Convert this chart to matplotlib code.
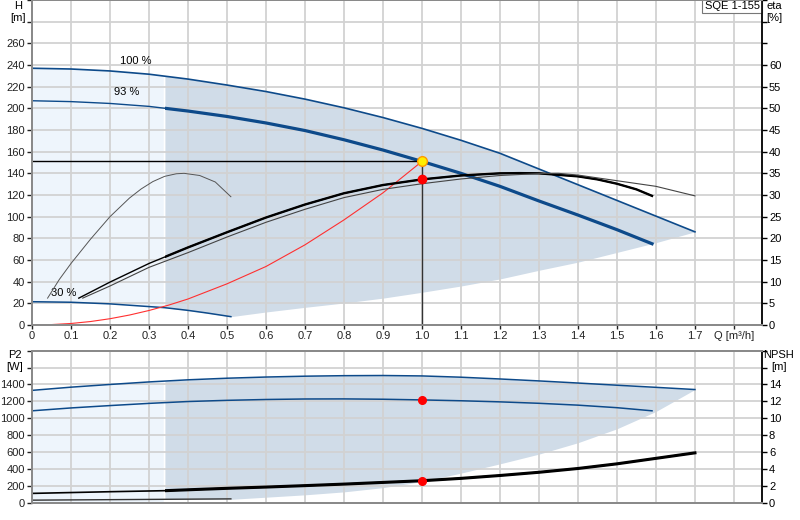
import numpy as np
import matplotlib
matplotlib.use('Agg')
import matplotlib.pyplot as plt
from matplotlib.patches import Rectangle

plt.rcParams['font.family'] = ['Liberation Sans', 'DejaVu Sans']

# ---- pump curves ----
# head H [m] vs flow Q [m3/h]
q100 = [0, 0.1, 0.2, 0.3, 0.4, 0.5, 0.6, 0.7, 0.8, 0.9, 1.0, 1.1, 1.2, 1.3, 1.4, 1.5, 1.6, 1.7]
h100 = [237, 236.3, 234.5, 231.5, 227, 221.5, 215.5, 208.5, 200.5, 191.5, 181.5, 170.5, 158.5, 144,
        129.5, 115, 100.5, 86]
q93 = [0, 0.1, 0.2, 0.3, 0.4, 0.5, 0.6, 0.7, 0.8, 0.9, 1.0, 1.1, 1.2, 1.3, 1.4, 1.5, 1.59]
h93 = [207, 206.2, 204.5, 201.8, 197.5, 192.5, 186.5, 179.5, 171, 161.5, 151, 140, 128, 114.5,
       101.5, 88, 75]
q30 = [0, 0.1, 0.2, 0.3, 0.34, 0.4, 0.45, 0.51]
h30 = [21.5, 21, 19.5, 17, 16, 13.5, 11, 7.7]
q_low = [0.51, 0.6, 0.7, 0.8, 0.9, 1.0, 1.1, 1.2, 1.3, 1.4, 1.5, 1.6, 1.7]
h_low = [7.7, 12, 16.3, 20.3, 24.8, 30.2, 36, 42.5, 50.5, 58, 67, 76, 86]

# system curve
q_sys = [0, 0.05, 0.1, 0.15, 0.2, 0.25, 0.3, 0.35, 0.4, 0.5, 0.6, 0.7, 0.8, 0.9, 1.0]
h_sys = [0, 0.4, 1.4, 3.2, 5.8, 9.2, 13.4, 18.3, 24, 38, 54, 74, 97, 122, 151]

# efficiency eta [%]
q_eta30 = [0.04, 0.07, 0.1, 0.15, 0.2, 0.25, 0.28, 0.31, 0.34, 0.37, 0.39, 0.43, 0.47, 0.51]
eta30 = [6.2, 10.5, 14.2, 19.8, 25, 29.3, 31.4, 33.1, 34.3, 34.9, 35, 34.5, 33, 29.6]
q_eta93 = [0.12, 0.2, 0.3, 0.4, 0.5, 0.6, 0.7, 0.8, 0.9, 1.0, 1.1, 1.2, 1.25, 1.3, 1.4, 1.45,
           1.5, 1.55, 1.59]
eta93 = [6.2, 9.9, 14.2, 17.9, 21.4, 24.8, 27.8, 30.4, 32.3, 33.6, 34.5, 35, 35.05, 35, 34.3,
         33.6, 32.6, 31.3, 29.8]
q_eta100 = [0.13, 0.2, 0.3, 0.4, 0.5, 0.6, 0.7, 0.8, 0.9, 1.0, 1.1, 1.2, 1.3, 1.35, 1.4, 1.5,
            1.6, 1.7]
eta100 = [6.2, 9.0, 13.3, 16.7, 20.3, 23.7, 26.7, 29.4, 31.3, 32.6, 33.7, 34.5, 34.95, 35, 34.6,
          33.3, 32, 29.8]

# power P2 [W]
q_p100 = [0, 0.1, 0.2, 0.3, 0.4, 0.5, 0.6, 0.7, 0.8, 0.9, 1.0, 1.1, 1.2, 1.3, 1.4, 1.5, 1.6, 1.7]
p100 = [1330, 1368, 1400, 1430, 1455, 1474, 1488, 1498, 1504, 1506, 1501, 1486, 1465, 1442, 1417,
        1391, 1366, 1340]
q_p93 = [0, 0.1, 0.2, 0.3, 0.4, 0.5, 0.6, 0.7, 0.8, 0.9, 1.0, 1.1, 1.2, 1.3, 1.4, 1.5, 1.59]
p93 = [1088, 1122, 1150, 1176, 1198, 1212, 1222, 1228, 1229, 1225, 1217, 1207, 1194, 1177, 1155,
       1125, 1088]
q_p30 = [0, 0.51]
p30 = [30, 45]
q_plow = [0.51, 0.6, 0.7, 0.8, 0.9, 1.0, 1.1, 1.2, 1.3, 1.4, 1.5, 1.6, 1.7]
p_low = [40, 65, 93, 128, 178, 250, 350, 460, 575, 710, 875, 1080, 1340]

# NPSH [m]
q_npsh = [0, 0.1, 0.2, 0.34, 0.43, 0.5, 0.6, 0.7, 0.8, 0.9, 1.0, 1.1, 1.2, 1.3, 1.4, 1.5, 1.6, 1.7]
npsh = [1.1, 1.2, 1.3, 1.42, 1.58, 1.7, 1.85, 2.02, 2.2, 2.4, 2.6, 2.88, 3.22, 3.6, 4.05, 4.6,
        5.25, 5.9]

# duty point
q_duty = 1.0
h_duty = 151
eta_duty = 33.6
p_duty = 1216
npsh_duty = 2.62

x_ticks = [0, 0.1, 0.2, 0.3, 0.4, 0.5, 0.6, 0.7, 0.8, 0.9, 1.0, 1.1, 1.2, 1.3, 1.4, 1.5, 1.6, 1.7, 1.8]
x_labels = ['0', '0.1', '0.2', '0.3', '0.4', '0.5', '0.6', '0.7', '0.8', '0.9', '1.0', '1.1', '1.2',
            '1.3', '1.4', '1.5', '1.6', '1.7', 'Q [m\u00b3/h]']

BLUE = '#0d4a8a'
LIGHT = '#eef5fc'
DARK = '#d0dce8'
GRID = '#d2d2d2'
FS = 8
q_split = 0.34


def style_axes(ax, tw, ymax, yticks, tw_max, tw_ticks):
    ax.set_xlim(0, 1.872)
    ax.set_ylim(0, ymax)
    tw.set_ylim(0, tw_max)
    ax.set_xticks(x_ticks)
    ax.grid(True, color=GRID, lw=1.3)
    ax.set_yticks(yticks)
    tw.set_yticks(tw_ticks)
    for a in (ax, tw):
        for s in a.spines.values():
            s.set_color('#8a8a8a')
            s.set_linewidth(1.4)
    tw.spines['right'].set_color('black')
    tw.spines['right'].set_linewidth(1.2)
    ax.tick_params(axis='y', length=3.5, width=1, labelsize=FS, pad=1.5, colors='#222222')
    tw.tick_params(axis='y', length=3.5, width=1, labelsize=FS, pad=1.5, colors='black')


def label_hide(labels, n):
    return [str(v) if i < n else '' for i, v in enumerate(labels)]


def thick_line(ax, q, v, **kw):
    # the part right of q_split is drawn heavier
    line, = ax.plot(q, v, **kw)
    ymax = ax.get_ylim()[1]
    clip = Rectangle((q_split, 0), 5, ymax, transform=ax.transData)
    line.set_clip_path(clip)
    return line


fig = plt.figure(figsize=(8, 5.2), dpi=100)
ax1 = fig.add_axes([0.04, 0.375, 0.9125, 0.625])
ax1t = ax1.twinx()
ax2 = fig.add_axes([0.04, 0.0333, 0.9125, 0.2923])
ax2t = ax2.twinx()

# ---------------- head / efficiency ----------------
yt1 = list(range(0, 301, 20))
et1 = list(range(0, 76, 5))
style_axes(ax1, ax1t, 300, yt1, 75, et1)
ax1.set_yticklabels(label_hide(yt1, 14))
ax1t.set_yticklabels(label_hide(et1, 13))
ax1.set_xticklabels(x_labels, fontsize=FS)
ax1.tick_params(axis='x', length=3, width=1, pad=1.5, colors='#222222')

# shaded areas
qq = np.linspace(0, 1.7, 400)
top = np.interp(qq, q100, h100)
bot = np.where(qq <= 0.51, np.interp(qq, q30, h30), np.interp(qq, q_low, h_low))
m_l = qq <= q_split
m_d = qq >= q_split
ax1.fill_between(qq[m_l], bot[m_l], top[m_l], color=LIGHT, lw=0, zorder=0.5)
ax1.fill_between(qq[m_d], bot[m_d], top[m_d], color=DARK, lw=0, zorder=0.5)

ax1.plot(q100, h100, color=BLUE, lw=1.2)
ax1.plot(q93, h93, color=BLUE, lw=1.0)
thick_line(ax1, q93, h93, color=BLUE, lw=2.3)
ax1.plot(q30, h30, color=BLUE, lw=1.1)

ax1.text(0.225, 244, '100 %', fontsize=FS, va='center')
ax1.text(0.21, 215, '93 %', fontsize=FS, va='center')
ax1.text(0.05, 29.5, '30 %', fontsize=FS, va='center')

# system curve and duty point lines
ax1.plot(q_sys, h_sys, color='#ff3030', lw=0.8)
ax1.plot([0, q_duty], [h_duty, h_duty], color='black', lw=1.0)
ax1.plot([q_duty, q_duty], [0, h_duty], color='#333333', lw=1.0)

# efficiency curves
ax1t.plot(q_eta30, eta30, color='#555555', lw=0.7)
ax1t.plot(q_eta93, eta93, color='black', lw=1.0)
thick_line(ax1t, q_eta93, eta93, color='black', lw=1.7)
ax1t.plot(q_eta100, eta100, color='#444444', lw=0.8)
ax1t.plot([q_duty], [eta_duty], 'o', ms=6, color='red', mec='red', zorder=5)
ax1.plot([q_duty], [h_duty], 'o', ms=7, color='#ffee00', mec='#ff9900', mew=1, zorder=5)

ax1.text(0.997, 0.998, 'SQE 1-155', transform=ax1.transAxes, ha='right', va='top', fontsize=8,
         bbox=dict(boxstyle='square,pad=0.22', fc='white', ec='#777777', lw=0.8), zorder=10)

# ---------------- power / NPSH ----------------
yt2 = list(range(0, 1801, 200))
nt2 = list(range(0, 19, 2))
style_axes(ax2, ax2t, 1800, yt2, 18, nt2)
ax2.set_yticklabels(label_hide(yt2, 8))
ax2t.set_yticklabels(label_hide(nt2, 8))
ax2.set_xticklabels([])
ax2.tick_params(axis='x', length=0)

ptop = np.interp(qq, q_p100, p100)
pbot = np.where(qq <= 0.51, np.interp(qq, q_p30, p30), np.interp(qq, q_plow, p_low))
ax2.fill_between(qq[m_l], 0, ptop[m_l], color=LIGHT, lw=0, zorder=0.5)
ax2.fill_between(qq[m_d], pbot[m_d], ptop[m_d], color=DARK, lw=0, zorder=0.5)

ax2.plot(q_p100, p100, color=BLUE, lw=1.1)
ax2.plot(q_p93, p93, color=BLUE, lw=1.1)
ax2.plot(q_p30, p30, color='#333333', lw=1.0)
ax2t.plot(q_npsh, npsh, color='black', lw=1.2)
thick_line(ax2t, q_npsh, npsh, color='black', lw=2.2)
ax2.plot([q_duty], [p_duty], 'o', ms=5.5, color='red', zorder=5)
ax2t.plot([q_duty], [npsh_duty], 'o', ms=5.5, color='red', zorder=5)

# axis titles
fig.text(18 / 800, 1 - 6 / 520, 'H', fontsize=FS, ha='center', va='center')
fig.text(18 / 800, 1 - 18 / 520, '[m]', fontsize=FS, ha='center', va='center')
fig.text(774 / 800, 1 - 6 / 520, 'eta', fontsize=FS, ha='center', va='center')
fig.text(774 / 800, 1 - 18 / 520, '[%]', fontsize=FS, ha='center', va='center')
fig.text(15 / 800, 1 - 355 / 520, 'P2', fontsize=FS, ha='center', va='center')
fig.text(15 / 800, 1 - 367 / 520, '[W]', fontsize=FS, ha='center', va='center')
fig.text(779 / 800, 1 - 355 / 520, 'NPSH', fontsize=FS, ha='center', va='center')
fig.text(779 / 800, 1 - 367 / 520, '[m]', fontsize=FS, ha='center', va='center')

fig.savefig('out.png', dpi=100)
